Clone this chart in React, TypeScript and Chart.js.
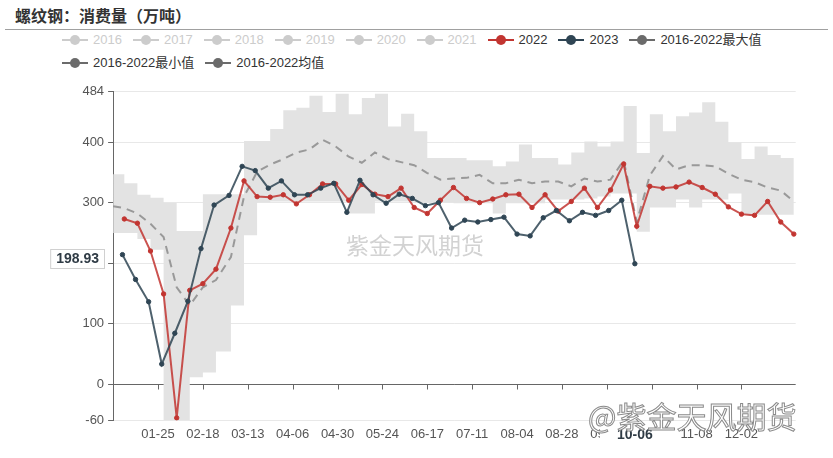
import React, { useEffect, useRef } from 'react';
import { Chart, registerables } from 'chart.js';

Chart.register(...registerables);

const FONT = '"Liberation Sans", Arial, "Noto Sans CJK SC", sans-serif';

// category axis: every day of a leap year, MM-DD
const MONTH_DAYS = [31, 29, 31, 30, 31, 30, 31, 31, 30, 31, 30, 31];
const axisDates: string[] = [];
MONTH_DAYS.forEach((n, m) => {
  for (let d = 1; d <= n; d++) axisDates.push(`${String(m + 1).padStart(2, '0')}-${String(d).padStart(2, '0')}`);
});

const xTickDates = ['01-25', '02-18', '03-13', '04-06', '04-30', '05-24', '06-17', '07-11', '08-04', '08-28', '09-21', '10-15', '11-08', '12-02'];
const yTickValues = [-60, 0, 100, 200, 300, 400, 484];

const dates2022 = ['01-07', '01-14', '01-21', '01-28', '02-04', '02-11', '02-18', '02-25', '03-04', '03-11', '03-18', '03-25', '04-01', '04-08', '04-15', '04-22', '04-29', '05-06', '05-13', '05-20', '05-27', '06-03', '06-10', '06-17', '06-24', '07-01', '07-08', '07-15', '07-22', '07-29', '08-05', '08-12', '08-19', '08-26', '09-02', '09-09', '09-16', '09-23', '09-30', '10-07', '10-14', '10-21', '10-28', '11-04', '11-11', '11-18', '11-25', '12-02', '12-09', '12-16', '12-23', '12-30'];
const values2022 = [273, 266, 220, 149, -56, 155, 166, 190, 258, 336, 310, 309, 313, 298, 313, 331, 331, 304, 330, 314, 310, 324, 292, 282, 304, 325, 307, 300, 306, 313, 314, 292, 313, 286, 302, 324, 292, 321, 364, 261, 327, 324, 326, 334, 325, 314, 293, 281, 279, 302, 268, 248];

const dates2023 = ['01-06', '01-13', '01-20', '01-27', '02-03', '02-10', '02-17', '02-24', '03-03', '03-10', '03-17', '03-24', '03-31', '04-07', '04-14', '04-21', '04-28', '05-05', '05-12', '05-19', '05-26', '06-02', '06-09', '06-16', '06-23', '06-30', '07-07', '07-14', '07-21', '07-28', '08-04', '08-11', '08-18', '08-25', '09-01', '09-08', '09-15', '09-22', '09-29', '10-06'];
const values2023 = [214, 173, 136, 33, 84, 137, 224, 296, 312, 360, 353, 324, 336, 313, 313, 324, 332, 284, 337, 313, 299, 314, 307, 295, 300, 258, 271, 268, 272, 276, 248, 245, 275, 287, 270, 284, 279, 287, 304, 198.93];

const bandDates = ['01-01', ...dates2022];
const max1622 = [347, 332, 313, 308, 300, 253, 253, 314, 314, 314, 402, 402, 422, 453, 457, 477, 450, 480, 446, 473, 480, 426, 447, 418, 374, 374, 374, 370, 370, 360, 368, 396, 374, 374, 363, 383, 401, 393, 401, 460, 382, 446, 418, 443, 449, 466, 434, 400, 372, 393, 379, 374, 374];
const min1622 = [250, 250, 240, 222, -60, -60, 11, 19, 54, 130, 246, 300, 302, 302, 302, 302, 302, 302, 282, 282, 302, 302, 302, 300, 300, 300, 299, 299, 299, 282, 299, 299, 299, 305, 305, 305, 307, 310, 315, 315, 252, 292, 292, 305, 292, 305, 305, 315, 280, 280, 280, 280, 280];
const mean1622 = [294, 291, 282, 265, 243, 160, 130, 160, 172, 210, 310, 351, 363, 372, 383, 388, 404, 393, 376, 366, 383, 372, 367, 362, 349, 338, 340, 341, 346, 332, 332, 338, 332, 335, 335, 327, 340, 335, 338, 370, 268, 345, 377, 355, 362, 362, 360, 348, 338, 334, 325, 320, 302];

const legendRow1 = [
  { name: '2016', color: '#cccccc', active: false },
  { name: '2017', color: '#cccccc', active: false },
  { name: '2018', color: '#cccccc', active: false },
  { name: '2019', color: '#cccccc', active: false },
  { name: '2020', color: '#cccccc', active: false },
  { name: '2021', color: '#cccccc', active: false },
  { name: '2022', color: '#c23531', active: true },
  { name: '2023', color: '#2f4554', active: true },
  { name: '2016-2022最大值', color: '#6b6b6b', active: true },
];
const legendRow2 = [
  { name: '2016-2022最小值', color: '#6b6b6b', active: true },
  { name: '2016-2022均值', color: '#6b6b6b', active: true },
];

const pts = (dates: string[], vals: number[]) => dates.map((d, i) => ({ x: d, y: vals[i] }));

const overlayPlugin = {
  id: 'overlay',
  beforeDatasetsDraw(chart: any) {
    const { ctx, scales } = chart;
    const x = scales.x, y = scales.y;
    const y0 = Math.round(y.getPixelForValue(0)) + 0.5;
    ctx.save();
    ctx.strokeStyle = '#666';
    ctx.lineWidth = 1;
    xTickDates.forEach((d) => {
      const px = Math.round(x.getPixelForValue(axisDates.indexOf(d))) + 0.5;
      ctx.beginPath();
      ctx.moveTo(px, y0);
      ctx.lineTo(px, y0 + 5);
      ctx.stroke();
    });
    ctx.restore();
  },
  afterDraw(chart: any) {
    const { ctx, scales } = chart;
    const x = scales.x, y = scales.y;
    const lastVal = values2023[values2023.length - 1];
    const lastDate = dates2023[dates2023.length - 1];
    ctx.save();
    ctx.font = `bold 14px ${FONT}`;
    ctx.textBaseline = 'middle';
    const yText = lastVal.toFixed(2);
    const tw = ctx.measureText(yText).width;
    const py = Math.round(y.getPixelForValue(lastVal) - 5);
    const right = 105;
    const left = right - tw - 12;
    ctx.fillStyle = '#fff';
    ctx.fillRect(left, py - 10, right - left, 20);
    ctx.strokeStyle = '#d0d0d0';
    ctx.lineWidth = 1;
    ctx.strokeRect(left + 0.5, py - 9.5, right - left - 1, 19);
    ctx.fillStyle = '#2f3b45';
    ctx.textAlign = 'center';
    ctx.fillText(yText, (left + right) / 2, py);
    const px = x.getPixelForValue(axisDates.indexOf(lastDate));
    ctx.fillStyle = '#fff';
    ctx.fillRect(px - 35, 425, 70, 21);
    ctx.fillStyle = '#2f3b45';
    ctx.fillText(lastDate, px, 435);
    ctx.restore();
  },
};

function LegendIcon({ color }: { color: string }) {
  return (
    <svg width={26} height={12} style={{ display: 'block' }}>
      <line x1={0} y1={6} x2={26} y2={6} stroke={color} strokeWidth={2} />
      <circle cx={13} cy={6} r={5} fill={color} />
    </svg>
  );
}

function LegendRow({ items, top }: { items: { name: string; color: string; active: boolean }[]; top: number }) {
  return (
    <div style={{ position: 'absolute', left: 62, top, height: 16, display: 'flex', alignItems: 'center', whiteSpace: 'nowrap' }}>
      {items.map((it) => (
        <div key={it.name} style={{ display: 'flex', alignItems: 'center', marginRight: 11 }}>
          <LegendIcon color={it.color} />
          <span style={{ marginLeft: 5, fontSize: 13, lineHeight: '16px', fontFamily: FONT, color: it.active ? '#333' : '#cccccc' }}>{it.name}</span>
        </div>
      ))}
    </div>
  );
}

export default function App() {
  const canvasRef = useRef<HTMLCanvasElement | null>(null);

  useEffect(() => {
    if (!canvasRef.current) return;
    const chart = new Chart(canvasRef.current, {
      type: 'line',
      data: {
        labels: axisDates,
        datasets: [
          {
            label: '2023',
            data: pts(dates2023, values2023),
            borderColor: 'rgba(47,69,84,0.85)',
            backgroundColor: '#2f4554',
            pointBackgroundColor: '#2f4554',
            pointBorderColor: '#2f4554',
            borderWidth: 2,
            pointRadius: 2.2,
            pointBorderWidth: 1,
            tension: 0,
            order: 0,
          },
          {
            label: '2022',
            data: pts(dates2022, values2022),
            borderColor: 'rgba(194,53,49,0.85)',
            backgroundColor: '#c23531',
            pointBackgroundColor: '#c23531',
            pointBorderColor: '#c23531',
            borderWidth: 2,
            pointRadius: 2.2,
            pointBorderWidth: 1,
            tension: 0,
            order: 1,
          },
          {
            label: '2016-2022均值',
            data: pts(bandDates, mean1622),
            borderColor: '#999999',
            borderWidth: 2,
            borderDash: [8, 6],
            pointRadius: 0,
            tension: 0,
            order: 2,
          },
          {
            label: '2016-2022最大值',
            data: pts(bandDates, max1622),
            borderColor: 'rgba(0,0,0,0)',
            backgroundColor: '#e3e3e3',
            borderWidth: 0,
            pointRadius: 0,
            stepped: true,
            fill: '+1',
            order: 3,
          },
          {
            label: '2016-2022最小值',
            data: pts(bandDates, min1622),
            borderColor: 'rgba(0,0,0,0)',
            borderWidth: 0,
            pointRadius: 0,
            stepped: true,
            fill: false,
            order: 4,
          },
        ] as any,
      },
      options: {
        responsive: false,
        animation: false,
        events: [],
        layout: { padding: { left: 0, right: 37.3, top: 91.4, bottom: 7.7 } },
        plugins: {
          legend: { display: false },
          tooltip: { enabled: false },
          title: { display: false },
        },
        scales: {
          x: {
            type: 'category',
            offset: false,
            grid: { display: false, drawTicks: false },
            border: { display: false },
            ticks: {
              autoSkip: false,
              maxRotation: 0,
              minRotation: 0,
              padding: 6,
              color: '#555',
              font: { size: 13, family: FONT },
            },
            afterBuildTicks: (scale: any) => {
              scale.ticks = xTickDates.map((d) => ({ value: axisDates.indexOf(d) }));
            },
            afterFit: (scale: any) => {
              scale.height = 30;
            },
          },
          y: {
            min: -60,
            max: 484,
            afterBuildTicks: (scale: any) => {
              scale.ticks = yTickValues.map((v) => ({ value: v }));
            },
            grid: {
              color: (c: any) => (c.tick && c.tick.value === 0 ? '#666' : '#e8e8e8'),
              tickColor: '#666',
              tickLength: 5,
            },
            border: { display: true, color: '#666' },
            ticks: {
              padding: 4,
              color: '#555',
              font: { size: 13, family: FONT },
              callback: (v: any) => String(v),
            },
            afterFit: (scale: any) => {
              scale.width = 113.1;
            },
          },
        } as any,
      },
      plugins: [overlayPlugin],
    });
    return () => chart.destroy();
  }, []);

  return (
    <div style={{ position: 'absolute', left: 0, top: 0, width: 833, height: 458, background: '#fff', overflow: 'hidden' }}>
      <div style={{ position: 'absolute', left: 15, top: 4, fontFamily: '"Noto Sans CJK SC", sans-serif', fontWeight: 700, fontSize: 16, lineHeight: '22px', color: '#333' }}>
        螺纹钢：消费量（万吨）
      </div>
      <div style={{ position: 'absolute', left: 5, top: 29, width: 823, height: 1, background: '#a0a0a0' }} />
      <LegendRow items={legendRow1} top={32} />
      <LegendRow items={legendRow2} top={55} />
      <canvas ref={canvasRef} width={833} height={458} style={{ position: 'absolute', left: 0, top: 0, width: 833, height: 458 }} />
      <div style={{ position: 'absolute', left: 346, top: 230, fontFamily: '"Noto Sans CJK SC", sans-serif', fontSize: 23, lineHeight: '28px', color: '#d2d2d2', pointerEvents: 'none', whiteSpace: 'nowrap' }}>
        紫金天风期货
      </div>
      <div style={{ position: 'absolute', left: 588, top: 396, fontFamily: '"Noto Sans CJK SC", sans-serif', fontSize: 30, lineHeight: '38px', color: '#fff', WebkitTextStroke: '1px #8a8a8a', pointerEvents: 'none', whiteSpace: 'nowrap' }}>
        @紫金天风期货
      </div>
    </div>
  );
}
